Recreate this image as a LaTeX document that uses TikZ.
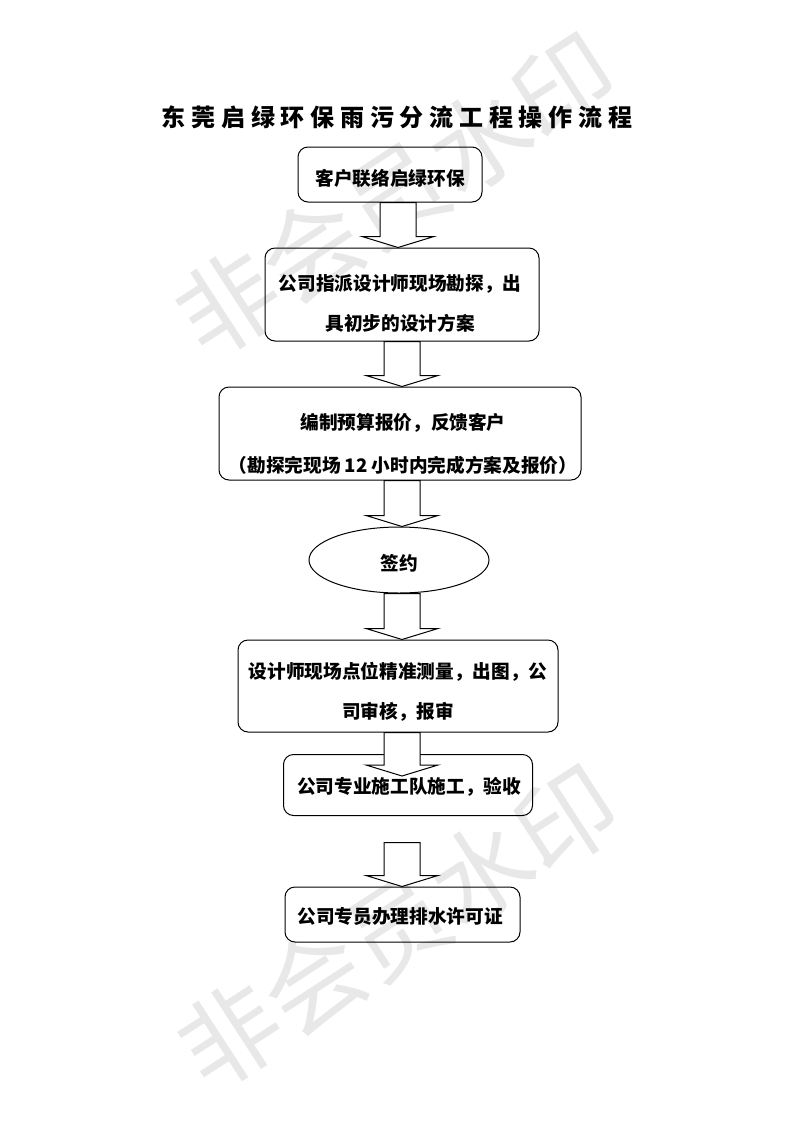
\documentclass[tikz,border=0pt]{standalone}
\usepackage{fontspec}
\newfontfamily\cjk{Noto Sans CJK SC}
\newfontfamily\cjktitle[LetterSpace=24]{Noto Sans CJK SC}
\usetikzlibrary{calc, shapes.geometric}

\tikzset{
    flowbox/.style={draw, rounded corners=7.5pt, line width=0.75pt, inner sep=0pt},
    flowoval/.style={draw, ellipse, line width=0.75pt, inner sep=0pt},
    flowarrow/.style={draw, fill=white, line width=0.75pt, line join=miter},
    flowtext/.style={font=\cjk\bfseries\fontsize{14pt}{30pt}\selectfont, align=center, inner sep=0pt},
    watermark/.style={font=\cjk\fontsize{75pt}{75pt}\selectfont, text=black!9, rotate=33}
}

\begin{document}
\begin{tikzpicture}[x=0.75pt, y=-0.75pt]
            \useasboundingbox (0,0) rectangle (793,1122);

            % watermark
            \node[watermark] (wm1) at (396,195) {非会员水印};
            \node[watermark] (wm2) at (398,927) {非会员水印};

            % title
            \node[font=\cjktitle\bfseries\fontsize{18pt}{18pt}\selectfont] (title) at (397,117) {东莞启绿环保雨污分流工程操作流程};

            % boxes
            \foreach \name/\cx/\cy/\w/\h in {b1/390/174.5/184/55, b2/402/294.5/274/93, b3/400/433.5/362/93,
                b4/398/686/320/92, b5/408/785/249/61, b6/402.5/914.5/235/55}
            {
                \node[flowbox, minimum width=\w*0.75pt, minimum height=\h*0.75pt] (\name) at (\cx,\cy) {};
            }
            \node[flowoval, minimum width=135pt, minimum height=49.5pt] (e1) at (399,560) {};

            \coordinate (a5tip) at ([yshift=-16.5pt]b5.north);
            \coordinate (a6top) at ([yshift=-20pt]b5.south);

            % block arrows
            \foreach \from/\to/\ax in {b1.south/b2.north/398, b2.south/b3.north/402, b3.south/e1.north/402,
                e1.south/b4.north/402, b4.south/a5tip/402, a6top/b6.north/402}
            {
                \draw[flowarrow]
                    let \p1 = (\from), \p2 = (\to), \p3 = (\ax,0)
                    in (\x3-13.5pt,\y1) -- (\x3-13.5pt,\y2+8.25pt) -- (\x3-27pt,\y2+8.25pt) -- (\x3,\y2)
                    -- (\x3+27pt,\y2+8.25pt) -- (\x3+13.5pt,\y2+8.25pt) -- (\x3+13.5pt,\y1) -- cycle;
            }

            % texts
            \node[flowtext] (t1) at (390,178) {客户联络启绿环保};
            \node[flowtext] (t2) at (400,303) {公司指派设计师现场勘探，出\\具初步的设计方案};
            \node[flowtext, font=\cjk\bfseries\fontsize{14pt}{32.25pt}\selectfont] (t3) at (403,443.5) {编制预算报价，反馈客户\\（勘探完现场 12 小时内完成方案及报价）};
            \node[flowtext] (t0) at (399,563) {签约};
            \node[flowtext] (t4) at (398,692) {设计师现场点位精准测量，出图，公\\司审核，报审};
            \node[flowtext] (t5) at (409,787) {公司专业施工队施工，验收};
            \node[flowtext] (t6) at (400,916) {公司专员办理排水许可证};
        \end{tikzpicture}
\end{document}
